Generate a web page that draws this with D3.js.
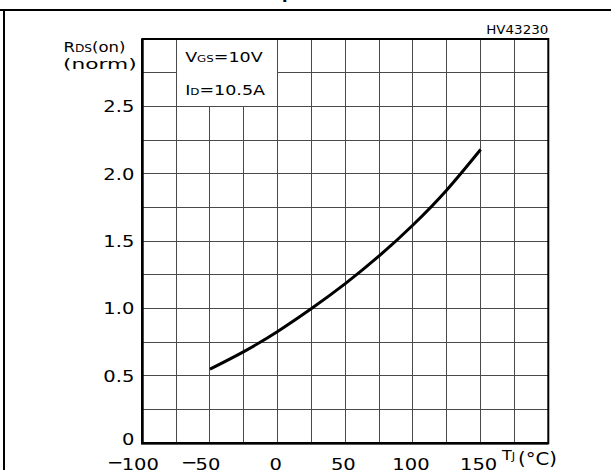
<!DOCTYPE html>
<html>
<head>
<meta charset="utf-8">
<script src="https://cdn.jsdelivr.net/npm/d3@7"></script>
<style>
  body { margin: 0; background: #fff; }
  svg { display: block; }
  text { font-family: 'DejaVu Sans', sans-serif; fill: #000; }
</style>
</head>
<body>
<svg id="chart" width="611" height="470"></svg>
<script>
// normalized on-resistance vs junction temperature
const temps = [-50, -25, 0, 25, 50, 75, 100, 125, 150];
const rdsNorm = [0.55, 0.68, 0.83, 1.0, 1.185, 1.39, 1.62, 1.88, 2.18];

const xTicks = [-100, -50, 0, 50, 100, 150];
const yTicks = [0, 0.5, 1.0, 1.5, 2.0, 2.5];
const xGridStep = 25;
const yGridStep = 0.25;

const svg = d3.select('#chart');

const plotLeft = 142.3, plotRight = 548.3, plotTop = 39, plotBottom = 443.3;
const x = d3.scaleLinear().domain([-100, 200]).range([plotLeft, plotRight]);
const y = d3.scaleLinear().domain([0, 3]).range([plotBottom, plotTop]);

// horizontal stretch, the source font is wider than DejaVu
const sx = 1.22;

function label(x0, y0, str, size, anchor, stretch) {
  return svg.append('text')
    .attr('transform', `translate(${x0},${y0}) scale(${stretch || sx},1)`)
    .attr('text-anchor', anchor || 'start')
    .style('font-size', size + 'px')
    .text(str);
}

// outer frame (top + left only, the rest is cut off)
svg.append('line')
  .attr('x1', 0).attr('x2', 611).attr('y1', 10).attr('y2', 10)
  .attr('stroke', '#000').attr('stroke-width', 2);
svg.append('line')
  .attr('x1', 4).attr('x2', 4).attr('y1', 10).attr('y2', 470)
  .attr('stroke', '#000').attr('stroke-width', 2);

// title is above the crop, only the descender of the "p" shows
const title = svg.append('text')
  .attr('y', -1)
  .style('font-size', '16px')
  .style('font-weight', 'bold')
  .text('Normalized On Resistance vs Temperature');
const pIdx = title.text().indexOf('p');
const pOff = title.node().getSubStringLength(0, pIdx);
title.attr('x', 282 - pOff);

// GRID
const grid = svg.append('g')
  .attr('stroke', '#4a4a4a')
  .attr('stroke-width', 1)
  .attr('shape-rendering', 'crispEdges');

grid.selectAll('.vline')
  .data(d3.range(-100 + xGridStep, 200, xGridStep))
  .enter().append('line')
  .attr('x1', d => x(d)).attr('x2', d => x(d))
  .attr('y1', plotTop).attr('y2', plotBottom);

grid.selectAll('.hline')
  .data(d3.range(yGridStep, 3 - 1e-9, yGridStep))
  .enter().append('line')
  .attr('x1', plotLeft).attr('x2', plotRight)
  .attr('y1', d => y(d)).attr('y2', d => y(d));

// legend box covers the top-left cells
svg.append('rect')
  .attr('x', x(-75)).attr('y', y(3))
  .attr('width', x(0) - x(-75)).attr('height', y(2.5) - y(3))
  .attr('fill', '#fff')
  .attr('stroke', '#4a4a4a')
  .attr('shape-rendering', 'crispEdges');

const vgs = svg.append('text')
  .attr('transform', `translate(${x(-75) + 9},62) scale(1.25,1)`);
vgs.append('tspan').style('font-size', '14px').text('V');
vgs.append('tspan').style('font-size', '9.5px').text('GS');
vgs.append('tspan').style('font-size', '14px').text('=10V');

const idl = svg.append('text')
  .attr('transform', `translate(${x(-75) + 9},95) scale(1.25,1)`);
idl.append('tspan').style('font-size', '14px').text('I');
idl.append('tspan').style('font-size', '9.5px').text('D');
idl.append('tspan').style('font-size', '14px').text('=10.5A');

// plot frame
svg.append('rect')
  .attr('x', plotLeft).attr('y', plotTop)
  .attr('width', plotRight - plotLeft).attr('height', plotBottom - plotTop)
  .attr('fill', 'none')
  .attr('stroke', '#000')
  .attr('stroke-width', 2);
svg.append('path')
  .attr('d', `M${plotLeft},${plotTop} V${plotBottom} H${plotRight}`)
  .attr('fill', 'none')
  .attr('stroke', '#000')
  .attr('stroke-width', 2.6);

// CURVE
const line = d3.line()
  .x(d => x(d[0]))
  .y(d => y(d[1]))
  .curve(d3.curveNatural);

svg.append('path')
  .datum(d3.zip(temps, rdsNorm))
  .attr('d', line)
  .attr('fill', 'none')
  .attr('stroke', '#000')
  .attr('stroke-width', 3)
  .attr('stroke-linecap', 'butt');

// AXIS LABELS
yTicks.forEach(v => {
  const ty = Math.min(y(v), y(0) - 4);
  label(plotLeft - 8, ty, v === 0 ? '0' : v.toFixed(1), 16, 'end')
    .attr('dy', '0.36em');
});

xTicks.forEach(v => {
  const cx = x(v) - 2;
  const t = label(cx, 470, String(Math.abs(v)), 16, 'middle');
  if (v < 0) {
    const w = t.node().getComputedTextLength() * sx;
    label(cx - w / 2 + 1.5, 467.5, '\u2212', 16, 'end');
  }
});

// axis titles
const tj = svg.append('text')
  .attr('transform', `translate(502,460) scale(1.15,1)`);
tj.append('tspan').style('font-size', '14px').text('T');
tj.append('tspan').style('font-size', '10px').text('J');
label(518, 465, '(\u00b0C)', 17, 'start', 1.16);

const rds = svg.append('text')
  .attr('transform', `translate(63.5,52) scale(${sx},1)`);
rds.append('tspan').style('font-size', '13.5px').text('R');
rds.append('tspan').style('font-size', '10px').text('DS');
rds.append('tspan').style('font-size', '13.5px').text('(on)');
label(63, 68.5, '(norm)', 14, 'start', 1.55);

label(plotRight, 34, 'HV43230', 12, 'end', 1.12);
</script>
</body>
</html>
